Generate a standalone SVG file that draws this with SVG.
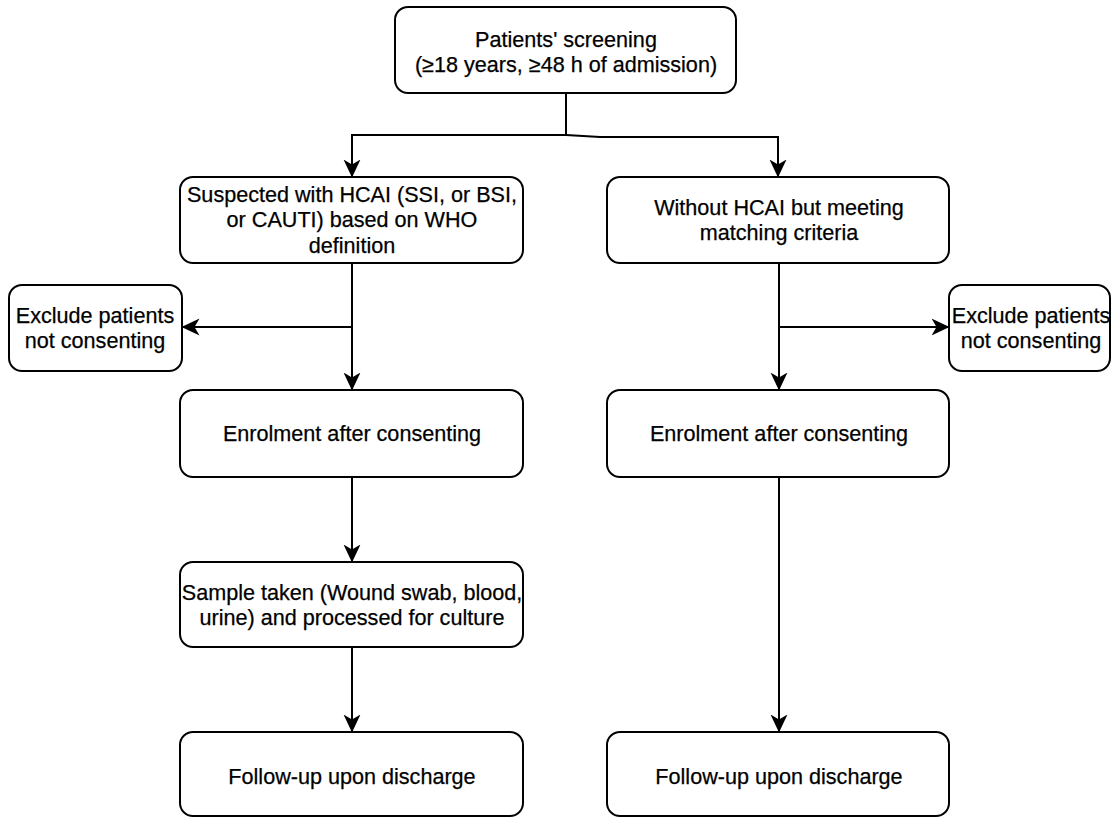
<svg xmlns="http://www.w3.org/2000/svg" width="1112" height="818" viewBox="0 0 1112 818">
<style>
.box{fill:#fff;stroke:#000;stroke-width:2}
.t{font-family:"Liberation Sans",Arial,sans-serif;font-size:21.6px;fill:#000;text-anchor:middle;stroke:#000;stroke-width:0.25}
.c{fill:none;stroke:#000;stroke-width:2}
</style>
<defs>
<marker id="ah" markerWidth="18" markerHeight="18" refX="17.5" refY="8.5" orient="auto" markerUnits="userSpaceOnUse">
<path d="M0,0 L18,8.5 L0,17 L5,8.5 z" fill="#000"/>
</marker>
</defs>
<rect width="1112" height="818" fill="#fff"/>
<g id="connectors">
<path class="c" d="M566,93 V135 H352 V177" marker-end="url(#ah)"/>
<path class="c" d="M566,135 L600,137 H778 V177" marker-end="url(#ah)"/>
<path class="c" d="M352,263 V390" marker-end="url(#ah)"/>
<path class="c" d="M352,327 H182" marker-end="url(#ah)"/>
<path class="c" d="M779,263 V390" marker-end="url(#ah)"/>
<path class="c" d="M779,327 H949" marker-end="url(#ah)"/>
<path class="c" d="M352,477 V562" marker-end="url(#ah)"/>
<path class="c" d="M352,647 V732" marker-end="url(#ah)"/>
<path class="c" d="M779,477 V732" marker-end="url(#ah)"/>
</g>
<g id="screening">
<rect class="box" x="395" y="7" width="341" height="86" rx="13"/>
<text class="t" x="566" y="47">Patients' screening</text>
<text class="t" x="566" y="72">(≥18 years, ≥48 h of admission)</text>
</g>
<g id="suspected">
<rect class="box" x="180" y="177" width="343" height="86" rx="13"/>
<text class="t" x="352" y="202">Suspected with HCAI (SSI, or BSI,</text>
<text class="t" x="352" y="227">or CAUTI) based on WHO</text>
<text class="t" x="352" y="253">definition</text>
</g>
<g id="without">
<rect class="box" x="607" y="177" width="342" height="86" rx="13"/>
<text class="t" x="779" y="215">Without HCAI but meeting</text>
<text class="t" x="779" y="240">matching criteria</text>
</g>
<g id="exclude-left">
<rect class="box" x="9" y="285" width="173" height="86" rx="13"/>
<text class="t" x="95" y="323">Exclude patients</text>
<text class="t" x="95" y="348">not consenting</text>
</g>
<g id="exclude-right">
<rect class="box" x="949" y="285" width="161" height="86" rx="13"/>
<text class="t" x="1031" y="323">Exclude patients</text>
<text class="t" x="1031" y="348">not consenting</text>
</g>
<g id="enrol-left">
<rect class="box" x="180" y="390" width="343" height="87" rx="13"/>
<text class="t" x="352" y="441">Enrolment after consenting</text>
</g>
<g id="enrol-right">
<rect class="box" x="607" y="390" width="342" height="87" rx="13"/>
<text class="t" x="779" y="441">Enrolment after consenting</text>
</g>
<g id="sample">
<rect class="box" x="180" y="562" width="343" height="85" rx="13"/>
<text class="t" x="352" y="600">Sample taken (Wound swab, blood,</text>
<text class="t" x="352" y="625">urine) and processed for culture</text>
</g>
<g id="followup-left">
<rect class="box" x="180" y="732" width="343" height="84" rx="13"/>
<text class="t" x="352" y="784">Follow-up upon discharge</text>
</g>
<g id="followup-right">
<rect class="box" x="607" y="732" width="342" height="84" rx="13"/>
<text class="t" x="779" y="784">Follow-up upon discharge</text>
</g>
</svg>
